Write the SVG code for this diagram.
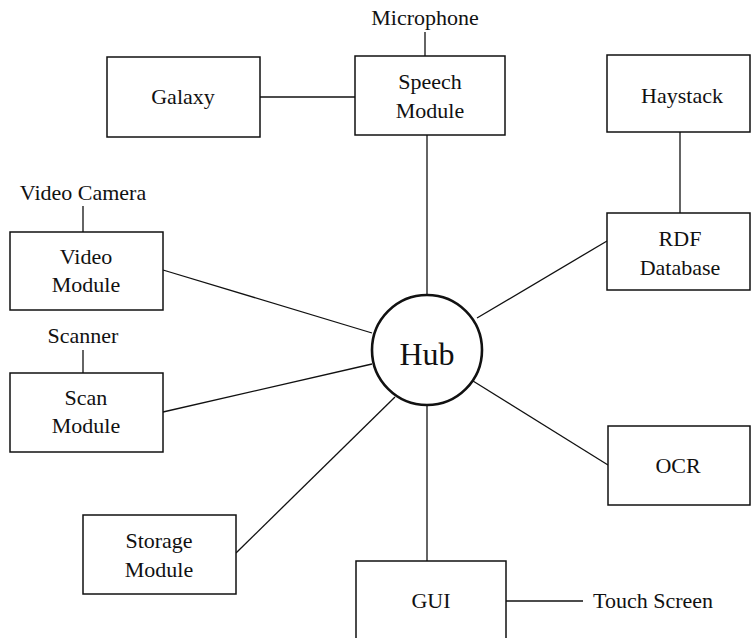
<svg xmlns="http://www.w3.org/2000/svg" width="751" height="638" viewBox="0 0 751 638">
  <style>
    .box { fill: #fff; stroke: #111; stroke-width: 1.5; }
    .hub { fill: #fff; stroke: #111; stroke-width: 2.6; }
    .link { fill: none; stroke: #111; stroke-width: 1.3; }
    text { font-family: "Liberation Serif", "Times New Roman", serif; font-size: 22px; fill: #111; text-anchor: middle; }
    .big { font-size: 32px; }
  </style>
  <rect width="751" height="638" fill="#fff"/>

  <!-- connectors -->
  <g id="connectors">
    <line class="link" x1="425" y1="32" x2="425" y2="56"/>
    <line class="link" x1="260" y1="97" x2="355" y2="97"/>
    <line class="link" x1="427" y1="135" x2="427" y2="295"/>
    <line class="link" x1="680" y1="132" x2="680" y2="213"/>
    <line class="link" x1="477" y1="318" x2="607" y2="241"/>
    <line class="link" x1="83" y1="206" x2="83" y2="232"/>
    <line class="link" x1="163" y1="270" x2="372" y2="333"/>
    <line class="link" x1="83" y1="350" x2="83" y2="373"/>
    <line class="link" x1="163" y1="412" x2="372" y2="364"/>
    <line class="link" x1="236" y1="553" x2="395" y2="397"/>
    <line class="link" x1="427" y1="405" x2="427" y2="561"/>
    <line class="link" x1="473" y1="381" x2="608" y2="465"/>
    <line class="link" x1="506" y1="601" x2="583" y2="601"/>
  </g>

  <g id="microphone"><text x="425" y="25">Microphone</text></g>
  <g id="galaxy">
    <rect class="box" x="107" y="57" width="153" height="80"/>
    <text x="183" y="104">Galaxy</text>
  </g>
  <g id="speech">
    <rect class="box" x="355" y="56" width="150" height="79"/>
    <text x="430" y="89">Speech</text>
    <text x="430" y="118">Module</text>
  </g>
  <g id="haystack">
    <rect class="box" x="607" y="55" width="143" height="77"/>
    <text x="682" y="103">Haystack</text>
  </g>
  <g id="rdf">
    <rect class="box" x="607" y="213" width="143" height="77"/>
    <text x="680" y="246">RDF</text>
    <text x="680" y="275">Database</text>
  </g>
  <g id="video-camera"><text x="83" y="200">Video Camera</text></g>
  <g id="video">
    <rect class="box" x="10" y="232" width="153" height="78"/>
    <text x="86" y="264">Video</text>
    <text x="86" y="292">Module</text>
  </g>
  <g id="scanner"><text x="83" y="343">Scanner</text></g>
  <g id="scan">
    <rect class="box" x="10" y="373" width="153" height="79"/>
    <text x="86" y="405">Scan</text>
    <text x="86" y="433">Module</text>
  </g>
  <g id="hub">
    <circle class="hub" cx="427" cy="350" r="55"/>
    <text class="big" x="427" y="365">Hub</text>
  </g>
  <g id="ocr">
    <rect class="box" x="608" y="426" width="142" height="79"/>
    <text x="678" y="473">OCR</text>
  </g>
  <g id="storage">
    <rect class="box" x="83" y="515" width="153" height="79"/>
    <text x="159" y="548">Storage</text>
    <text x="159" y="577">Module</text>
  </g>
  <g id="gui">
    <rect class="box" x="356" y="561" width="150" height="90"/>
    <text x="431" y="608">GUI</text>
  </g>
  <g id="touch-screen"><text x="593" y="608" style="text-anchor:start">Touch Screen</text></g>
</svg>
